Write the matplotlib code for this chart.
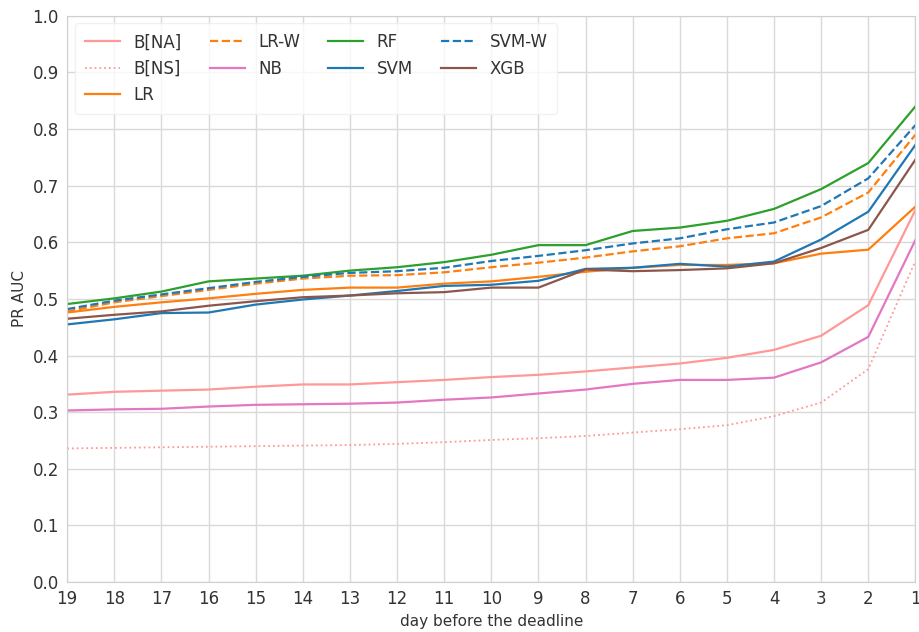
import matplotlib
matplotlib.use("Agg")
import matplotlib.pyplot as plt

# --- data ---
days = [19, 18, 17, 16, 15, 14, 13, 12, 11, 10, 9, 8, 7, 6, 5, 4, 3, 2, 1]

b_na = [0.331, 0.336, 0.338, 0.340, 0.345, 0.349, 0.349, 0.353, 0.357, 0.362,
        0.366, 0.372, 0.379, 0.386, 0.396, 0.410, 0.435, 0.489, 0.657]
b_ns = [0.236, 0.237, 0.238, 0.239, 0.240, 0.241, 0.242, 0.244, 0.247, 0.251,
        0.254, 0.258, 0.264, 0.270, 0.277, 0.293, 0.317, 0.376, 0.567]
lr = [0.476, 0.486, 0.494, 0.501, 0.509, 0.516, 0.520, 0.520, 0.527, 0.531,
      0.539, 0.548, 0.555, 0.560, 0.560, 0.563, 0.580, 0.587, 0.663]
lr_w = [0.478, 0.494, 0.505, 0.516, 0.527, 0.536, 0.541, 0.542, 0.547, 0.556,
        0.564, 0.573, 0.584, 0.593, 0.607, 0.616, 0.644, 0.688, 0.790]
nb = [0.303, 0.305, 0.306, 0.310, 0.313, 0.314, 0.315, 0.317, 0.322, 0.326,
      0.333, 0.340, 0.350, 0.357, 0.357, 0.361, 0.388, 0.433, 0.604]
rf = [0.491, 0.501, 0.513, 0.531, 0.536, 0.541, 0.550, 0.556, 0.565, 0.578,
      0.595, 0.595, 0.620, 0.626, 0.638, 0.659, 0.694, 0.740, 0.840]
svm = [0.455, 0.464, 0.475, 0.476, 0.490, 0.499, 0.506, 0.514, 0.523, 0.525,
       0.532, 0.553, 0.555, 0.562, 0.557, 0.566, 0.605, 0.654, 0.772]
svm_w = [0.482, 0.497, 0.508, 0.519, 0.530, 0.539, 0.546, 0.549, 0.555, 0.567,
         0.576, 0.586, 0.598, 0.607, 0.623, 0.635, 0.664, 0.713, 0.807]
xgb = [0.465, 0.472, 0.478, 0.488, 0.496, 0.503, 0.506, 0.510, 0.512, 0.520,
       0.520, 0.552, 0.549, 0.551, 0.554, 0.563, 0.590, 0.622, 0.746]

plt.rcParams["font.family"] = "DejaVu Sans"

fig = plt.figure(figsize=(9.2, 6.32), dpi=100)
ax = fig.add_axes([0.073, 0.079, 0.922, 0.896])

lw = 1.6
ax.plot(days, b_na, color="#ff9896", lw=lw, label="B[NA]")
ax.plot(days, b_ns, color="#ff9896", lw=1.3, ls=":", label="B[NS]")
ax.plot(days, lr, color="#ff7f0e", lw=lw, label="LR")
ax.plot(days, lr_w, color="#ff7f0e", lw=lw, ls="--", label="LR-W")
ax.plot(days, nb, color="#e377c2", lw=lw, label="NB")
ax.plot(days, rf, color="#2ca02c", lw=lw, label="RF")
ax.plot(days, svm, color="#1f77b4", lw=lw, label="SVM")
ax.plot(days, svm_w, color="#1f77b4", lw=lw, ls="--", label="SVM-W")
ax.plot(days, xgb, color="#8c564b", lw=lw, label="XGB")

ax.set_xlim(19, 1)
ax.set_ylim(0, 1.0)
ax.set_xticks(days)
ax.set_yticks([i / 10 for i in range(11)])
ax.set_yticklabels([f"{i / 10:.1f}" for i in range(11)])
ax.tick_params(length=0, labelsize=12, colors="#333333", pad=6)

ax.grid(True, color="#d9d9d9", lw=1)
ax.set_axisbelow(True)
for s in ax.spines.values():
    s.set_color("#d0d0d0")

ax.set_xlabel("day before the deadline", fontsize=11, color="#333333")
ax.set_ylabel("PR AUC", fontsize=11, color="#333333")

leg = ax.legend(loc="upper left", ncol=4, fontsize=12, frameon=True,
                handlelength=2.1, columnspacing=1.7, borderpad=0.6,
                borderaxespad=0.45)
leg.get_frame().set_facecolor("white")
leg.get_frame().set_edgecolor("#eeeeee")
for t in leg.get_texts():
    t.set_color("#333333")

fig.savefig("out.png", dpi=100)
